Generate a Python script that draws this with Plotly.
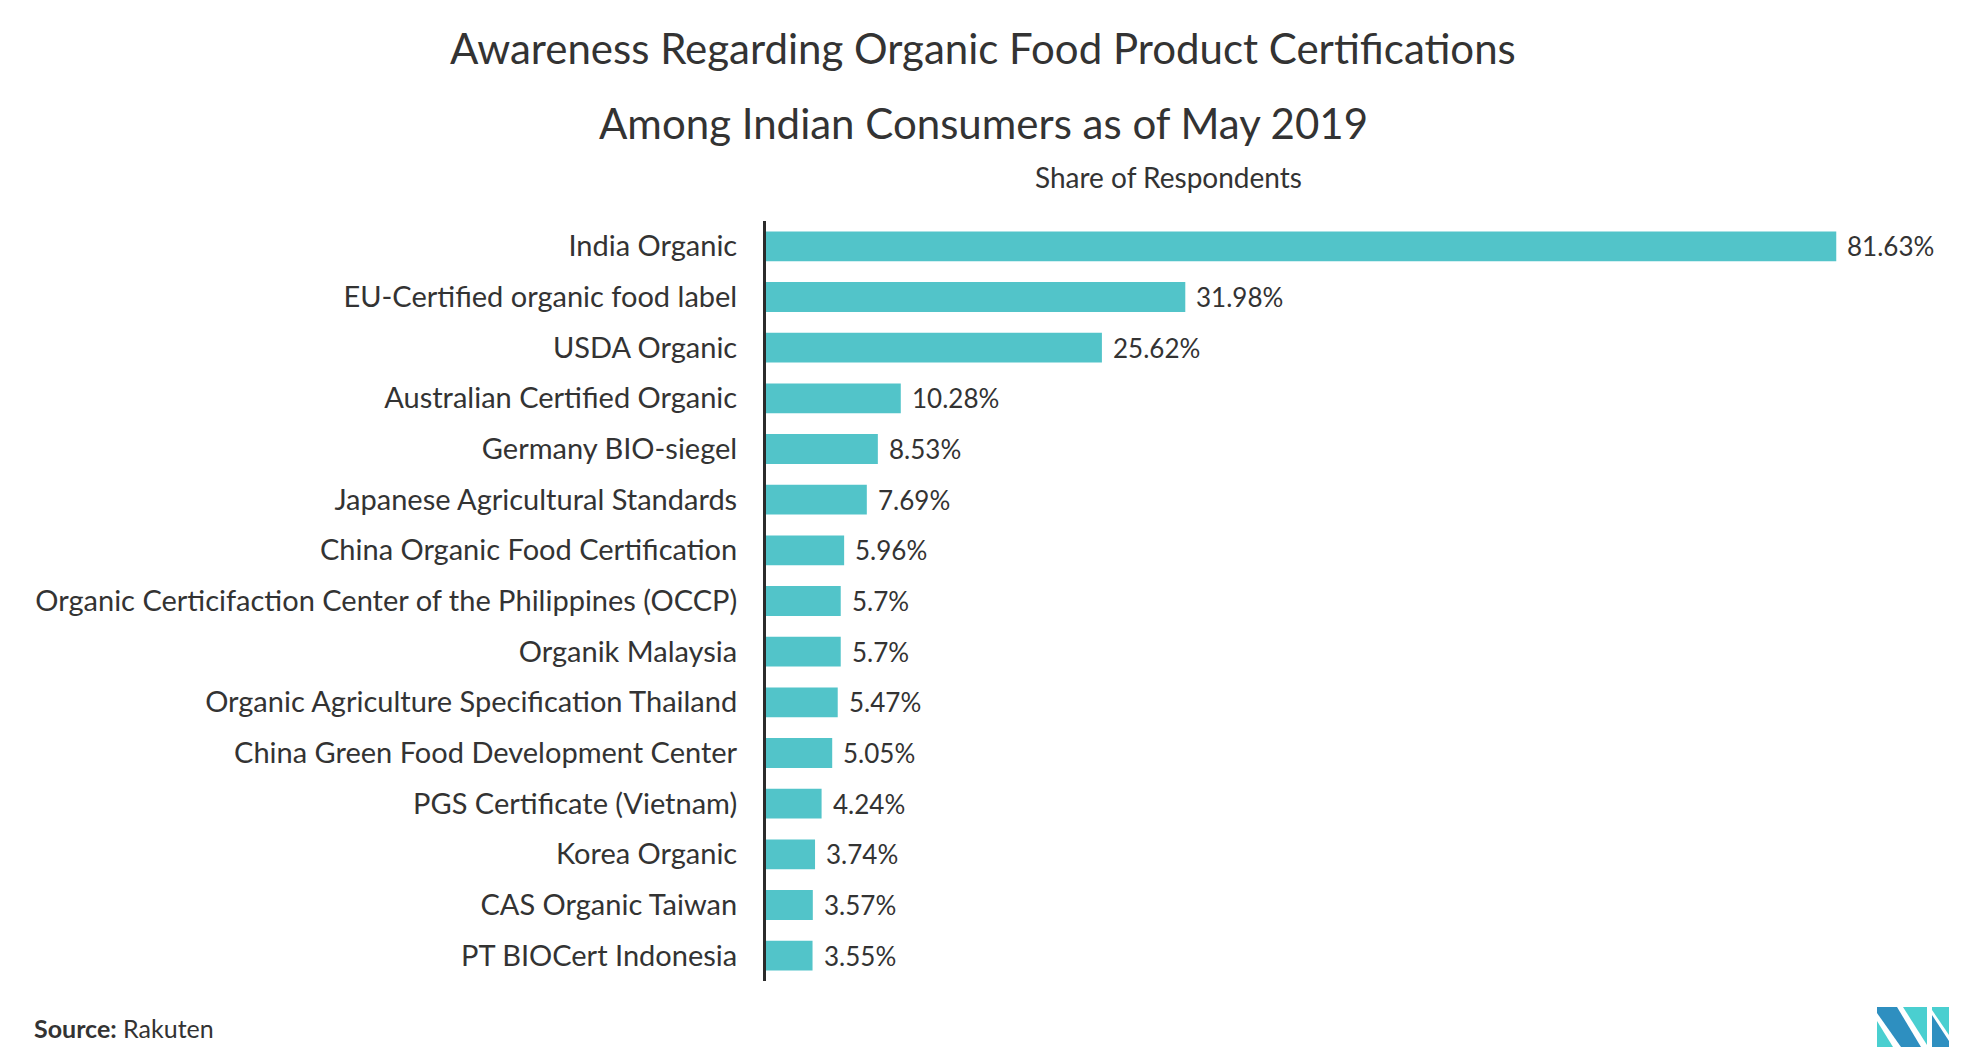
import plotly.graph_objects as go

categories = [
    "India Organic",
    "EU-Certified organic food label",
    "USDA Organic",
    "Australian Certified Organic",
    "Germany BIO-siegel",
    "Japanese Agricultural Standards",
    "China Organic Food Certification",
    "Organic Certicifaction Center of the Philippines (OCCP)",
    "Organik Malaysia",
    "Organic Agriculture Specification Thailand",
    "China Green Food Development Center",
    "PGS Certificate (Vietnam)",
    "Korea Organic",
    "CAS Organic Taiwan",
    "PT BIOCert Indonesia",
]
values = [81.63, 31.98, 25.62, 10.28, 8.53, 7.69, 5.96, 5.7, 5.7, 5.47, 5.05, 4.24, 3.74, 3.57, 3.55]
value_labels = [f"{v:g}%" for v in values]

# page has default 8px body margin -> figure drawn 8px smaller and offset
OFF = 8
W, H = 1967 - OFF, 1057 - OFF
L, R, T, B = 766 - OFF, 21, 221 - OFF, 76
PW, PH = W - L - R, H - T - B

def px(x):
    return (x - OFF - L) / PW

def py(y):
    return (H - B - (y - OFF)) / PH

FONT = "Lato"
TXT = "#333333"

fig = go.Figure()
fig.add_trace(go.Bar(
    x=values, y=categories, orientation="h",
    marker=dict(color="#52C4C9", line=dict(width=0)),
    hoverinfo="skip",
))

annotations = []
for c, v, t in zip(categories, values, value_labels):
    annotations.append(dict(x=v, y=c, xref="x", yref="y", text=t, showarrow=False,
                            xanchor="left", yanchor="middle", xshift=9,
                            font=dict(family=FONT, size=26, color=TXT)))

annotations += [
    dict(x=px(983), y=py(48), xref="paper", yref="paper", showarrow=False,
         text="Awareness Regarding Organic Food Product Certifications",
         xanchor="center", yanchor="middle", font=dict(family=FONT, size=42, color=TXT)),
    dict(x=px(983), y=py(123), xref="paper", yref="paper", showarrow=False,
         text="Among Indian Consumers as of May 2019",
         xanchor="center", yanchor="middle", font=dict(family=FONT, size=42, color=TXT)),
    dict(x=px(1168), y=py(177), xref="paper", yref="paper", showarrow=False,
         text="Share of Respondents",
         xanchor="center", yanchor="middle", font=dict(family=FONT, size=28, color=TXT)),
    dict(x=px(32), y=py(1028), xref="paper", yref="paper", showarrow=False,
         text="<b>Source:</b> Rakuten",
         xanchor="left", yanchor="middle", font=dict(family=FONT, size=25, color=TXT)),
]

def path(points):
    return "M " + " L ".join(f"{px(x)},{py(y)}" for x, y in points) + " Z"

DARK = "#2E8FC0"
LIGHT = "#4ACFD0"
shapes = [
    dict(type="path", xref="paper", yref="paper", path=path([(1877, 1021), (1877, 1047), (1893, 1047)]),
         fillcolor=LIGHT, line=dict(width=0)),
    dict(type="path", xref="paper", yref="paper", path=path([(1877, 1007), (1897, 1007), (1921, 1047), (1901, 1047), (1877, 1013)]),
         fillcolor=DARK, line=dict(width=0)),
    dict(type="path", xref="paper", yref="paper", path=path([(1903, 1007), (1927, 1007), (1927, 1045)]),
         fillcolor=LIGHT, line=dict(width=0)),
    dict(type="path", xref="paper", yref="paper", path=path([(1932, 1007), (1949, 1007), (1949, 1035), (1932, 1010)]),
         fillcolor=LIGHT, line=dict(width=0)),
    dict(type="path", xref="paper", yref="paper", path=path([(1932, 1015), (1949, 1041), (1949, 1047), (1932, 1047)]),
         fillcolor=DARK, line=dict(width=0)),
]

fig.update_layout(
    width=W, height=H,
    margin=dict(l=L, r=R, t=T, b=B, pad=0),
    paper_bgcolor="white", plot_bgcolor="white",
    showlegend=False,
    bargap=0.41,
    annotations=annotations,
    shapes=shapes,
    font=dict(family=FONT, color=TXT),
    xaxis=dict(range=[0, 90], visible=False, showgrid=False, zeroline=False, fixedrange=True),
    yaxis=dict(categoryorder="array", categoryarray=categories, autorange="reversed",
               showline=True, linecolor="#2b2b2b", linewidth=3, ticks="", ticklen=0,
               showgrid=False, zeroline=False,
               tickfont=dict(family=FONT, size=29, color=TXT), ticklabelstandoff=20),
)

fig.write_html("out.html")
